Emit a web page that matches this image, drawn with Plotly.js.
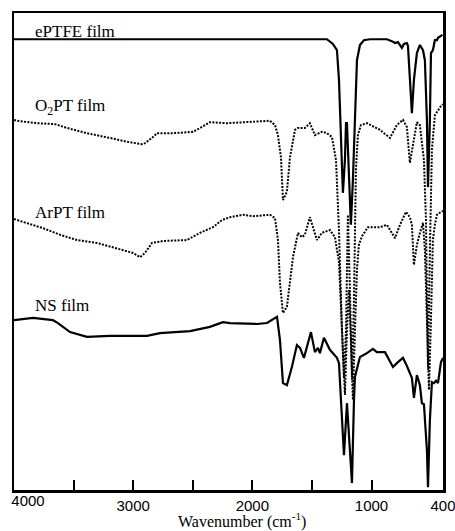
<!DOCTYPE html>
<html>
<head>
<meta charset="utf-8">
<script src="https://cdn.plot.ly/plotly-3.0.1.min.js"></script>
<style>html,body{margin:0;padding:0;background:#fff;}#chart{width:455px;height:531px;}</style>
</head>
<body>
<div id="chart"></div>
<script>
// Series names
const seriesNames = ["ePTFE film", "O<sub>2</sub>PT film", "ArPT film", "NS film"];

// ePTFE film
const eptfeWn = [4000, 3000, 2000, 1400, 1374, 1324, 1290, 1273, 1257, 1240, 1223, 1214, 1206, 1189, 1173, 1156, 1139, 1122, 1097, 1064, 1013, 871, 829, 803, 778, 745, 728, 703, 694, 678, 661, 644, 619, 594, 568, 552, 535, 526, 510, 501, 485, 468, 451, 442, 426, 405];
const eptfeT  = [94.5, 94.5, 94.5, 94.5, 94.5, 93.5, 92.2, 86.0, 73.4, 62.3, 69.2, 76.9, 76.9, 67.1, 55.6, 65.0, 79.7, 90.1, 93.3, 94.3, 94.5, 94.5, 94.1, 93.7, 93.9, 92.7, 93.5, 93.7, 93.1, 86.0, 79.0, 86.0, 91.6, 93.3, 92.2, 90.1, 77.6, 63.5, 77.6, 91.6, 92.2, 94.3, 94.3, 94.8, 95.0, 95.4];

// O2PT film
const o2ptWn = [4000, 3975, 3807, 3656, 3555, 3388, 3195, 3052, 2926, 2901, 2834, 2800, 2666, 2498, 2423, 2356, 2213, 2045, 1852, 1810, 1785, 1760, 1743, 1710, 1684, 1642, 1617, 1559, 1517, 1475, 1416, 1374, 1332, 1298, 1273, 1248, 1231, 1214, 1198, 1181, 1164, 1147, 1131, 1114, 1089, 1038, 929, 845, 787, 736, 703, 678, 652, 619, 594, 577, 560, 543, 526, 510, 493, 468, 442, 417, 400];
const o2ptT  = [77.6, 77.4, 76.9, 76.7, 75.9, 74.8, 73.8, 73.0, 72.5, 72.7, 74.0, 74.8, 74.8, 75.1, 76.1, 77.1, 76.9, 77.1, 77.4, 76.5, 74.4, 69.8, 60.8, 62.5, 69.8, 75.5, 75.9, 75.9, 76.9, 74.4, 75.1, 74.8, 74.0, 69.2, 54.5, 33.5, 23.5, 33.5, 57.7, 41.9, 23.1, 39.8, 67.1, 74.4, 76.5, 76.9, 75.5, 73.8, 76.5, 77.6, 76.1, 68.6, 72.3, 77.1, 76.5, 72.3, 69.2, 56.6, 25.2, 50.3, 71.3, 78.6, 79.7, 80.5, 80.9];

// ArPT film
const arptWn = [4000, 3891, 3757, 3614, 3471, 3304, 3136, 3002, 2943, 2901, 2842, 2750, 2549, 2439, 2330, 2255, 2188, 2079, 1995, 1852, 1810, 1785, 1768, 1743, 1710, 1684, 1659, 1617, 1584, 1559, 1517, 1458, 1416, 1349, 1307, 1273, 1257, 1240, 1223, 1206, 1189, 1173, 1156, 1139, 1122, 1106, 1080, 1030, 929, 871, 803, 761, 711, 678, 661, 644, 619, 594, 568, 552, 535, 518, 501, 485, 468, 451, 417, 400];
const arptT  = [56.8, 56.0, 54.9, 53.5, 52.4, 51.8, 50.7, 49.7, 48.8, 49.7, 51.8, 52.2, 52.4, 53.9, 55.1, 56.6, 57.2, 57.7, 57.4, 57.7, 57.0, 52.4, 43.4, 37.1, 38.4, 44.0, 48.8, 53.9, 53.0, 53.5, 57.2, 52.4, 53.9, 54.5, 53.0, 47.8, 39.8, 29.4, 19.9, 33.5, 41.9, 31.4, 18.9, 33.5, 46.1, 51.4, 53.2, 55.1, 55.1, 55.6, 52.8, 55.6, 58.3, 57.2, 55.6, 47.2, 51.4, 53.9, 56.0, 50.3, 33.5, 21.0, 35.6, 52.4, 55.6, 57.7, 58.3, 58.5];

// NS film
const nsWn = [4000, 3841, 3673, 3631, 3530, 3388, 3195, 2943, 2884, 2775, 2523, 2356, 2247, 2188, 1961, 1877, 1793, 1768, 1743, 1710, 1668, 1626, 1600, 1567, 1508, 1475, 1449, 1433, 1399, 1349, 1290, 1273, 1248, 1231, 1206, 1164, 1147, 1139, 1097, 1038, 988, 955, 887, 820, 778, 736, 703, 661, 644, 619, 594, 577, 560, 535, 526, 510, 493, 476, 459, 442, 417, 400];
const nsT  = [35.6, 36.1, 35.6, 35.0, 33.1, 32.1, 32.3, 32.3, 32.3, 32.9, 33.3, 34.2, 35.2, 35.0, 34.8, 35.0, 36.3, 31.4, 22.4, 22.0, 25.8, 30.4, 29.8, 27.7, 33.1, 28.9, 29.8, 28.7, 31.9, 29.4, 27.7, 26.6, 14.7, 7.3, 18.2, 1.5, 18.9, 23.7, 27.9, 28.7, 29.6, 28.9, 28.9, 25.8, 26.8, 27.7, 26.0, 23.5, 19.3, 24.1, 22.0, 18.2, 18.0, 8.4, 0.6, 14.7, 22.6, 22.4, 22.9, 22.4, 26.8, 27.7];

// Axis ticks
const majorTickVals = [3000, 2000, 1000, 400];
const majorTickText = ["3000", "2000", "1000", "400"];
const minorTickVals = [3500, 2500, 1500];
const edgeTickVals = [4000];
const edgeTickText = ["4000"];
const xTitle = "Wavenumber (cm<sup>-1</sup>)";

const dotted = "2px,1.4px";
const sans = "Liberation Sans, Arial, sans-serif";
const serif = "Liberation Serif, Times New Roman, serif";

const traces = [
  {x: eptfeWn, y: eptfeT, name: seriesNames[0], line: {color: "#000", width: 2.2, dash: "solid"}},
  {x: o2ptWn, y: o2ptT, name: seriesNames[1], line: {color: "#000", width: 2, dash: dotted}},
  {x: arptWn, y: arptT, name: seriesNames[2], line: {color: "#000", width: 2, dash: dotted}},
  {x: nsWn, y: nsT, name: seriesNames[3], line: {color: "#000", width: 2.2, dash: "solid"}}
].map(t => Object.assign({type: "scatter", mode: "lines", hoverinfo: "skip"}, t));
// empty trace so the overlaid edge-label axis is drawn
traces.push({type: "scatter", mode: "lines", x: [], y: [], xaxis: "x2", yaxis: "y", hoverinfo: "skip", showlegend: false});

const labelY = [0.962, 0.803, 0.581, 0.386];
const annotations = seriesNames.map((s, i) => ({
  text: s, xref: "paper", yref: "paper", x: 0.045, y: labelY[i],
  xanchor: "left", yanchor: "middle", showarrow: false,
  font: {family: serif, size: 17, color: "#000"}
}));
annotations.push({
  text: xTitle, xref: "paper", yref: "paper", x: 0.531, y: -0.088,
  xanchor: "center", yanchor: "bottom", showarrow: false, borderpad: 0,
  font: {family: serif, size: 16, color: "#000"}
});

const layout = {
  width: 455, height: 531,
  margin: {l: 14, r: 12, t: 13, b: 41},
  paper_bgcolor: "#fff", plot_bgcolor: "#fff",
  showlegend: false,
  xaxis: {
    range: [4000, 400], showgrid: false, zeroline: false,
    showline: true, mirror: true, linewidth: 2.5, linecolor: "#000",
    ticks: "inside", ticklen: 10, tickwidth: 2, tickcolor: "#000",
    tickmode: "array", tickvals: majorTickVals, ticktext: majorTickText,
    minor: {tickmode: "array", tickvals: minorTickVals, ticks: "inside", ticklen: 10, tickwidth: 2, tickcolor: "#000", showgrid: false},
    ticklabeloverflow: "allow",
    tickfont: {family: sans, size: 15, color: "#000"}
  },
  xaxis2: {
    overlaying: "x", anchor: "y", side: "bottom",
    range: [4000, 400], showgrid: false, zeroline: false, showline: false, ticks: "",
    tickmode: "array", tickvals: edgeTickVals, ticktext: edgeTickText,
    ticklabelshift: -14, ticklabeloverflow: "allow",
    tickfont: {family: sans, size: 15, color: "#000"}
  },
  yaxis: {
    range: [0, 100], showgrid: false, zeroline: false,
    showline: true, mirror: true, linewidth: 2.5, linecolor: "#000",
    ticks: "", showticklabels: false
  },
  annotations: annotations
};

Plotly.newPlot("chart", traces, layout, {staticPlot: true, displayModeBar: false});
</script>
</body>
</html>
